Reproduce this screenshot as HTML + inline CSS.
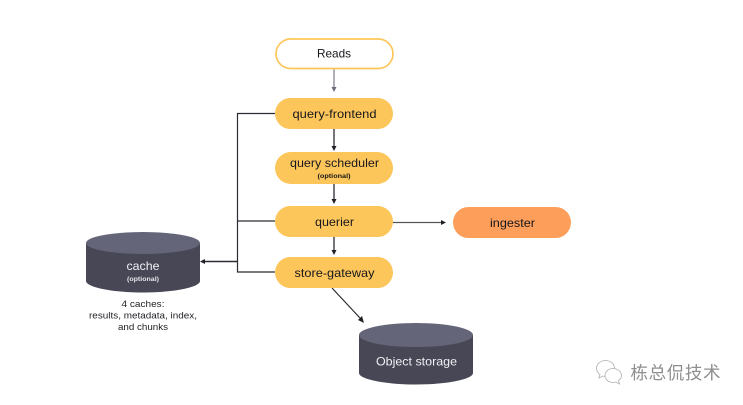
<!DOCTYPE html>
<html><head><meta charset="utf-8"><style>
html,body{margin:0;padding:0;background:#fff;width:743px;height:405px;overflow:hidden}
svg{display:block}
text{font-family:"Liberation Sans","Noto Sans CJK SC",sans-serif;text-anchor:middle}
</style></head><body>
<svg width="743" height="405" viewBox="0 0 743 405" xmlns="http://www.w3.org/2000/svg">
<rect width="743" height="405" fill="#fff"/>
<!-- connectors -->
<g fill="none" stroke="#2b2b33" stroke-width="1.200">
<path d="M275 113.500H237.500V272H275"/>
<path d="M275 221H237.500"/>
<path d="M237.500 261.500H204" stroke-width="1.400"/>
<path d="M334 129V146" stroke-width="1.300"/><path d="M334 184V199" stroke-width="1.300"/><path d="M334 237V251" stroke-width="1.300"/>
<path d="M393 222.500H441" stroke="#555"/>
<path d="M332 288L360 318"/>
</g>
<path d="M334 69V88" stroke="#7b7b8e" stroke-width="1.200" fill="none"/>
<path d="M331.500 87H336.500L334 92Z" fill="#6b6b80"/>
<g fill="#1f1f25">
<path d="M331.500 146H336.500L334 151Z"/>
<path d="M331.500 199H336.500L334 204Z"/>
<path d="M331.500 250H336.500L334 255Z"/>
<path d="M441 220L446 222.500L441 225Z"/>
<path d="M205 259V264L200 261.500Z"/>
<path d="M358 320L362 316L364 323Z"/>
</g>
<!-- pills -->
<rect x="276" y="39" width="117" height="29.500" rx="14.700" fill="#fff" stroke="#fdc65a" stroke-width="1.700"/>
<rect x="275" y="98" width="118" height="31" rx="15.500" fill="#fdc65a"/>
<rect x="275" y="152" width="118" height="32" rx="16" fill="#fdc65a"/>
<rect x="275" y="206" width="118" height="31" rx="15.500" fill="#fdc65a"/>
<rect x="275" y="257" width="118" height="31" rx="15.500" fill="#fdc65a"/>
<rect x="453" y="207" width="118" height="31" rx="15.500" fill="#fd9e5b"/>
<!-- pill labels -->
<g fill="#17171c" font-size="12">
<text x="334" y="57.500" textLength="34" lengthAdjust="spacingAndGlyphs">Reads</text>
<text x="334.500" y="118" textLength="84" lengthAdjust="spacingAndGlyphs">query-frontend</text>
<text x="334.500" y="167" textLength="89" lengthAdjust="spacingAndGlyphs">query scheduler</text>
<text x="334.500" y="226" textLength="39" lengthAdjust="spacingAndGlyphs">querier</text>
<text x="334.500" y="277" textLength="80" lengthAdjust="spacingAndGlyphs">store-gateway</text>
<text x="512.500" y="227" textLength="45" lengthAdjust="spacingAndGlyphs">ingester</text>
<text x="334" y="178" font-size="6" font-weight="bold" textLength="33" lengthAdjust="spacingAndGlyphs">(optional)</text>
</g>
<!-- cache cylinder -->
<path d="M86 243V281C86 287 111 292.500 143 292.500S200 287 200 281V243Z" fill="#474756"/>
<ellipse cx="143" cy="243" rx="57" ry="11" fill="#656579"/>
<text x="143" y="270" font-size="12" fill="#f0f0f4" textLength="33" lengthAdjust="spacingAndGlyphs">cache</text>
<text x="143" y="281" font-size="6" font-weight="bold" fill="#e6e6ec" textLength="32" lengthAdjust="spacingAndGlyphs">(optional)</text>
<g fill="#1f1f25" font-size="9.500">
<text x="143" y="307" textLength="43" lengthAdjust="spacingAndGlyphs">4 caches:</text>
<text x="143" y="318.500" textLength="108" lengthAdjust="spacingAndGlyphs">results, metadata, index,</text>
<text x="143" y="330" textLength="50" lengthAdjust="spacingAndGlyphs">and chunks</text>
</g>
<!-- object storage cylinder -->
<path d="M359 335V373C359 379 384 384.500 416 384.500S473 379 473 373V335Z" fill="#474756"/>
<ellipse cx="416" cy="335" rx="57" ry="12" fill="#656579"/>
<text x="416.500" y="365.500" font-size="12" fill="#f0f0f4" textLength="81" lengthAdjust="spacingAndGlyphs">Object storage</text>
<!-- watermark -->
<g fill="#fff" stroke="#b0b0b0" stroke-width="0.800">
<path d="M605.500 360.500C600.500 360.500 596.500 364 596.500 368.500C596.500 371 598 373 600 374.500L599 378L603 376C604 376.300 605 376.500 606 376.500C610.500 376.500 614.500 373 614.500 368.500C614.500 364 610.500 360.500 605.500 360.500Z"/>
<path d="M613 368.500C608.500 368.500 605 371.700 605 375.500C605 379.300 608.500 382.500 613 382.500C614 382.500 615 382.300 616 382L619.500 384L618.500 380.500C620.500 379.200 621.500 377.500 621.500 375.500C621.500 371.700 617.500 368.500 613 368.500Z"/>
</g>
<text x="675.500" y="379" font-size="17.500" fill="#8f8f8f" textLength="90">栋总侃技术</text>
</svg>
</body></html>
